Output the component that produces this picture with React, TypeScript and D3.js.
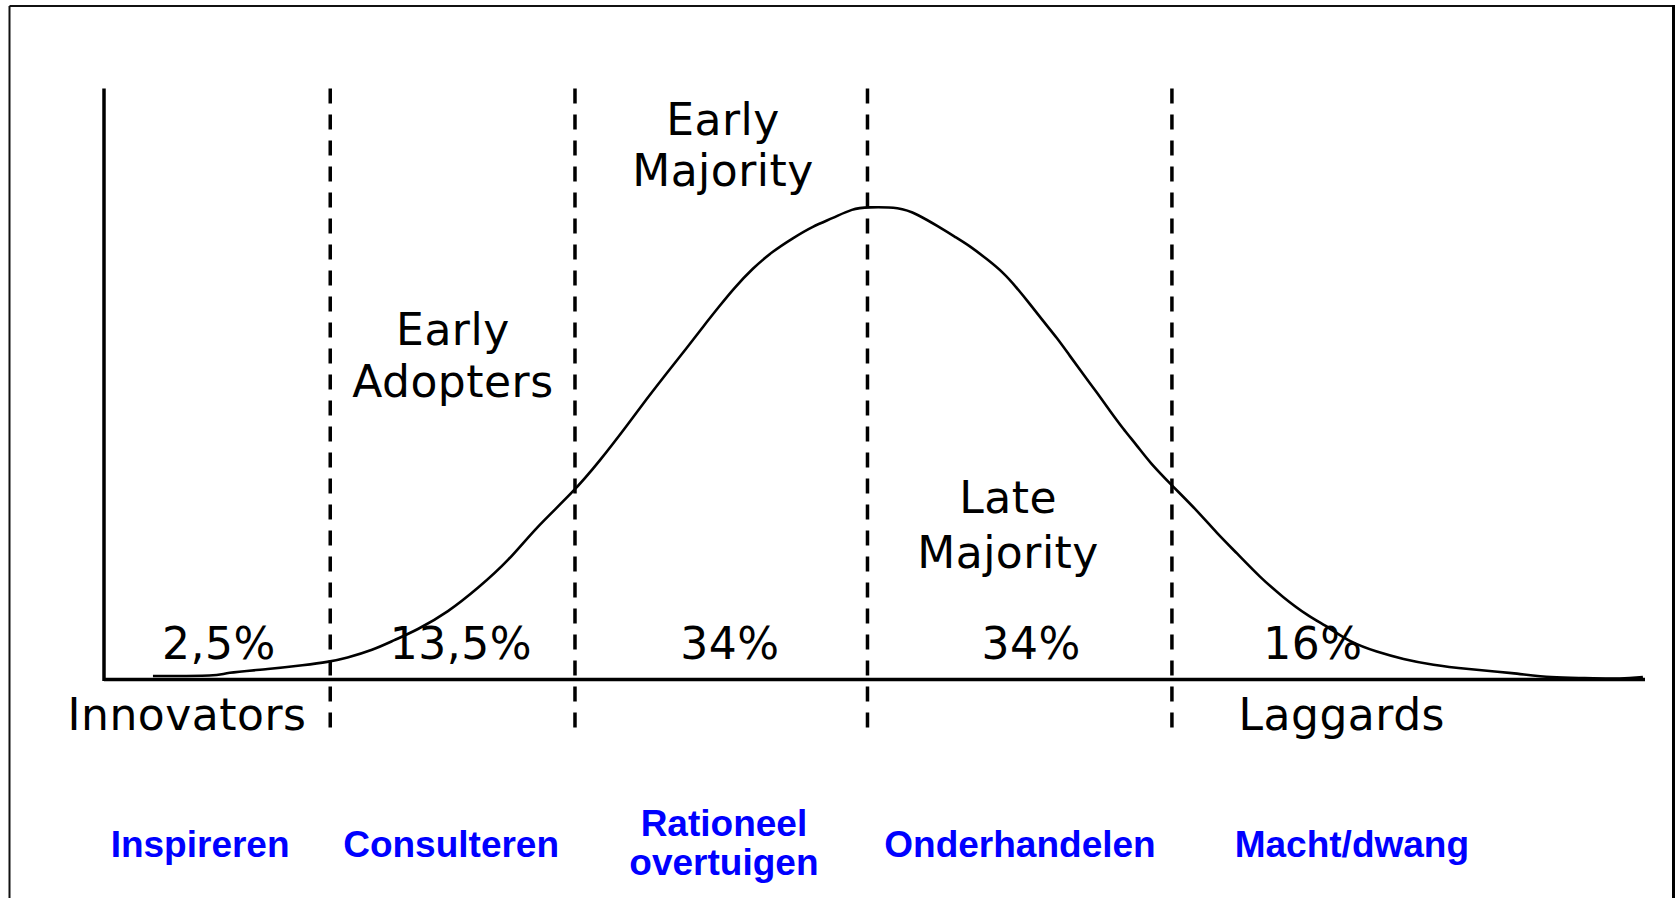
import * as d3 from 'd3';

// adoption curve (x in std-devs from the mean, y in density units)
const curveX = [
  -2.414, -2.189, -2.182, -2.022, -1.908, -1.827, -1.767, -1.677, -1.606, -1.529,
  -1.425, -1.325, -1.221, -1.134, -1.007, -0.916, -0.826, -0.759, -0.692, -0.625,
  -0.571, -0.514, -0.471, -0.404, -0.337, -0.27, -0.203, -0.136, -0.069, -0.022,
  0.089, 0.146, 0.216, 0.28, 0.323, 0.38, 0.434, 0.481, 0.524, 0.568,
  0.615, 0.658, 0.702, 0.749, 0.792, 0.836, 0.883, 0.926, 1.0, 1.084,
  1.151, 1.218, 1.295, 1.372, 1.452, 1.529, 1.596, 1.687, 1.774, 1.874,
  1.988, 2.142, 2.276, 2.377, 2.511, 2.578,
];
const curveY = [
  0.003, 0.003, 0.0055, 0.0089, 0.0122, 0.0148, 0.0181, 0.0249, 0.0333, 0.0418,
  0.057, 0.0772, 0.1008, 0.1278, 0.1582, 0.1852, 0.2148, 0.2376, 0.2595, 0.2805,
  0.2985, 0.3165, 0.3300, 0.3481, 0.3624, 0.3734, 0.3835, 0.3903, 0.3985, 0.3996,
  0.3996, 0.3937, 0.3835, 0.3734, 0.3667, 0.3557, 0.3446, 0.3312, 0.3177, 0.3034,
  0.289, 0.2738, 0.2586, 0.2426, 0.2274, 0.2122, 0.1979, 0.1835, 0.1641, 0.143,
  0.1236, 0.1068, 0.0865, 0.0696, 0.0544, 0.0435, 0.0316, 0.0232, 0.0173, 0.0122,
  0.0089, 0.0055, 0.0013, 0.0013, 0.0004, 0.0021,
];

const boundaries = [-1.82, -1.0, -0.02, 1.0];
const shareLabels = ['2,5%', '13,5%', '34%', '34%', '16%'];
const groupLabels = [['Innovators'], ['Early', 'Adopters'], ['Early', 'Majority'], ['Late', 'Majority'], ['Laggards']];
const strategyLabels = [['Inspireren'], ['Consulteren'], ['Rationeel', 'overtuigen'], ['Onderhandelen'], ['Macht/dwang']];

export default function App() {
  const W = 1675;
  const H = 898;

  const x = d3.scaleLinear().domain([-2.578, 2.585]).range([104, 1645]);
  const y = d3.scaleLinear().domain([0, 0.5]).range([679.5, 88.5]);

  const pts: [number, number][] = curveX.map((v, i) => [v, curveY[i]]);
  const line = d3.line<[number, number]>()
    .x(d => x(d[0]))
    .y(d => y(d[1]))
    .curve(d3.curveBasis);

  // label anchors (std-dev units along x, pixel baselines)
  const shareX = [-2.193, -1.382, -0.481, 0.528, 1.472];
  const groupX = [-2.3, -1.409, -0.504, 0.451, 1.569];
  const groupBase = [[730], [345, 397], [135, 186], [513, 568], [730]];
  const stratX = [-2.256, -1.415, -0.501, 0.491, 1.603];
  const stratBase = [[857], [857], [836, 875], [857], [857]];

  const font = '"DejaVu Sans", sans-serif';
  const bold = '"Liberation Sans", Arial, sans-serif';

  return (
    <svg width={W} height={H} style={{ position: 'absolute', left: 0, top: 0, background: '#fff' }}>
      {/* frame */}
      <line x1={9.5} y1={6} x2={1674} y2={6} stroke="#111" strokeWidth={2} />
      <line x1={9.5} y1={6} x2={9.5} y2={H} stroke="#111" strokeWidth={2} />
      <line x1={1673.5} y1={5} x2={1673.5} y2={H} stroke="#000" strokeWidth={3} />

      {/* axes */}
      <line x1={x(-2.578)} y1={y(0.5)} x2={x(-2.578)} y2={y(0) + 1.5} stroke="#000" strokeWidth={3.5} />
      <line x1={x(-2.578)} y1={y(0)} x2={x(2.585)} y2={y(0)} stroke="#000" strokeWidth={3.5} />

      {/* boundaries */}
      {boundaries.map((b, i) => (
        <line key={i} x1={x(b)} x2={x(b)} y1={y(0.5)} y2={732}
          stroke="#000" strokeWidth={3.5} strokeDasharray="15 11" />
      ))}

      {/* curve */}
      <path d={line(pts) ?? ''} fill="none" stroke="#000" strokeWidth={2.6} />

      {/* shares */}
      {shareLabels.map((s, i) => (
        <text key={i} x={x(shareX[i])} y={y(0) - 20.5} textAnchor="middle"
          fontFamily={font} fontSize={44} letterSpacing={0.5} fill="#000">{s}</text>
      ))}

      {/* adopter groups */}
      {groupLabels.map((g, i) => g.map((t, j) => (
        <text key={`${i}-${j}`} x={x(groupX[i])} y={groupBase[i][j]} textAnchor="middle"
          fontFamily={font} fontSize={44} letterSpacing={0.5} fill="#000">{t}</text>
      )))}

      {/* strategies */}
      {strategyLabels.map((g, i) => g.map((t, j) => (
        <text key={`s${i}-${j}`} x={x(stratX[i])} y={stratBase[i][j]} textAnchor="middle"
          fontFamily={bold} fontWeight="bold" fontSize={37} fill="#0000FF">{t}</text>
      )))}
    </svg>
  );
}
